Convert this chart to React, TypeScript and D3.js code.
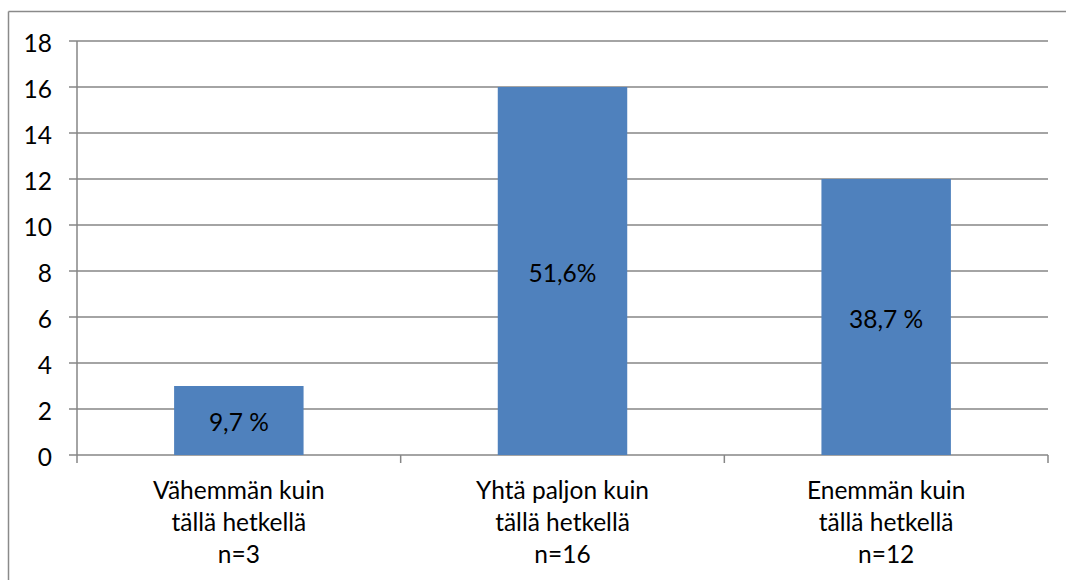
import React from "react";
import * as d3 from "d3";

const categories: string[][] = [
  ["Vähemmän kuin", "tällä hetkellä", "n=3"],
  ["Yhtä paljon kuin", "tällä hetkellä", "n=16"],
  ["Enemmän kuin", "tällä hetkellä", "n=12"],
];
const values: number[] = [3, 16, 12];
const dataLabels: string[] = ["9,7 %", "51,6%", "38,7 %"];
const yTicks: number[] = [0, 2, 4, 6, 8, 10, 12, 14, 16, 18];

const W = 1066;
const H = 580;
const left = 77;
const right = 1048;
const top = 41;
const bottom = 455;
const FONT = "Lato, 'Open Sans', sans-serif";
const FS = 24.5;

export default function App() {
  const x = d3
    .scaleBand<number>()
    .domain(values.map((_, i) => i))
    .range([left, right])
    .padding(0);
  const y = d3.scaleLinear().domain([0, 18]).range([bottom, top]);
  const bw = x.bandwidth() * 0.4;
  const grid = "#868686";

  return (
    <svg
      width={W}
      height={H}
      style={{ position: "absolute", left: 0, top: 0, display: "block" }}
    >
      <rect x={0} y={0} width={W} height={H} fill="#fff" />
      {/* chart border */}
      <line x1={8.5} y1={11.5} x2={W} y2={11.5} stroke="#8a8a8a" strokeWidth={1.5} />
      <line x1={8.5} y1={11.5} x2={8.5} y2={H} stroke="#8a8a8a" strokeWidth={1.5} />
      {/* gridlines & y ticks */}
      {yTicks.map((t) => (
        <g key={t}>
          <line x1={69} x2={right} y1={y(t)} y2={y(t)} stroke={grid} strokeWidth={1.5} />
          <text
            x={52}
            y={y(t) + 1}
            textAnchor="end"
            dominantBaseline="central"
            fontFamily={FONT}
            fontSize={FS}
            fill="#000"
          >
            {t}
          </text>
        </g>
      ))}
      {/* y axis */}
      <line x1={left} x2={left} y1={top} y2={bottom} stroke={grid} strokeWidth={1.5} />
      {/* x tick marks */}
      {[...values.map((_, i) => x(i) as number), right].map((px, i) => (
        <line key={i} x1={px} x2={px} y1={bottom} y2={bottom + 8} stroke={grid} strokeWidth={1.5} />
      ))}
      {/* bars */}
      {values.map((v, i) => {
        const cx = (x(i) as number) + x.bandwidth() / 2;
        return (
          <g key={i}>
            <rect x={cx - bw / 2} y={y(v)} width={bw} height={bottom - y(v)} fill="#4F81BD" />
            <text
              x={cx}
              y={(y(v) + bottom) / 2 + 1}
              textAnchor="middle"
              dominantBaseline="central"
              fontFamily={FONT}
              fontSize={FS}
              fill="#000"
            >
              {dataLabels[i]}
            </text>
            {categories[i].map((line, j) => (
              <text
                key={j}
                x={cx}
                y={499 + j * 32}
                textAnchor="middle"
                fontFamily={FONT}
                fontSize={FS}
                fill="#000"
              >
                {line}
              </text>
            ))}
          </g>
        );
      })}
    </svg>
  );
}
